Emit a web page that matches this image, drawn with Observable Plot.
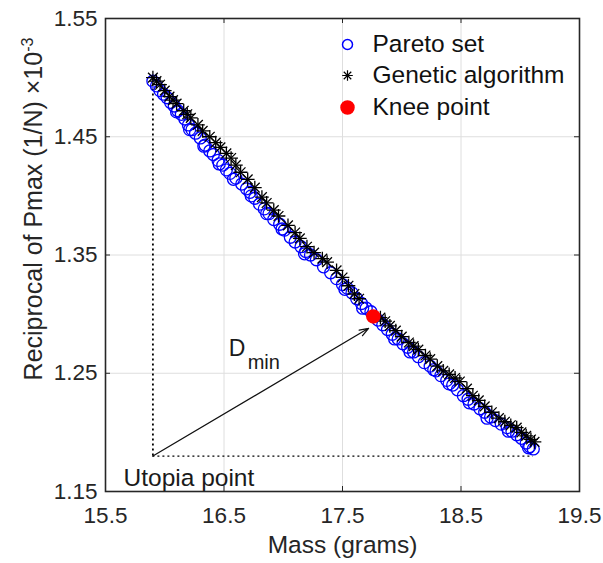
<!DOCTYPE html>
<html>
<head>
<meta charset="utf-8">
<script src="https://cdn.jsdelivr.net/npm/d3@7"></script>
<script src="https://cdn.jsdelivr.net/npm/@observablehq/plot@0.6"></script>
<style>
  html, body { margin: 0; padding: 0; background: #fff; }
  #chart svg { display: block; }
</style>
</head>
<body>
<div id="chart"></div>
<script>
// ---- Data ----
const paretoMass = [15.90,15.93,15.96,15.99,16.02,16.05,16.08,16.11,16.14,16.17,16.20,16.23,16.26,16.30,16.34,16.38,16.41,16.45,16.49,16.52,16.55,16.60,16.65,16.69,16.72,16.76,16.80,16.84,16.88,16.92,16.97,17.01,17.06,17.10,17.15,17.19,17.23,17.28,17.34,17.40,17.45,17.50,17.54,17.58,17.62,17.66,17.70,17.74,17.80,17.84,17.88,17.92,17.97,18.01,18.05,18.10,18.14,18.19,18.24,18.29,18.33,18.38,18.43,18.47,18.52,18.56,18.61,18.66,18.70,18.75,18.79,18.84,18.89,18.93,18.97,19.01,19.05,19.08,19.11,
  16.10,16.21,16.33,16.46,16.58,16.73,16.86,16.99,17.18,17.52,17.67,17.94,18.07,18.27,18.40,18.57,18.72,18.90,19.07];
const paretoRecip = [1.497,1.493,1.489,1.486,1.483,1.479,1.476,1.472,1.469,1.465,1.460,1.456,1.453,1.449,1.443,1.438,1.435,1.430,1.426,1.422,1.419,1.415,1.410,1.406,1.403,1.398,1.393,1.389,1.385,1.380,1.376,1.371,1.365,1.361,1.357,1.353,1.350,1.346,1.340,1.335,1.330,1.325,1.322,1.318,1.313,1.309,1.305,1.302,1.295,1.291,1.287,1.283,1.279,1.275,1.272,1.268,1.264,1.259,1.256,1.252,1.248,1.244,1.240,1.236,1.231,1.228,1.224,1.220,1.217,1.213,1.210,1.207,1.204,1.201,1.198,1.195,1.191,1.188,1.186,
  1.471,1.456,1.442,1.427,1.414,1.400,1.385,1.372,1.351,1.321,1.305,1.279,1.268,1.253,1.241,1.225,1.212,1.201,1.187];

const gaMass = [15.90,15.93,15.96,16.00,16.04,16.07,16.10,16.16,16.19,16.22,16.28,16.32,16.38,16.43,16.47,16.52,16.56,16.60,16.64,16.70,16.76,16.82,16.86,16.92,16.96,17.04,17.10,17.14,17.20,17.26,17.33,17.37,17.45,17.50,17.55,17.60,17.64,17.82,17.86,17.90,17.95,18.00,18.06,18.10,18.14,18.20,18.24,18.30,18.35,18.40,18.45,18.49,18.55,18.60,18.65,18.70,18.76,18.82,18.87,18.92,18.97,19.01,19.05,19.09,19.12];
const gaRecip = [1.500,1.497,1.494,1.489,1.484,1.481,1.478,1.472,1.469,1.466,1.460,1.455,1.450,1.445,1.441,1.436,1.432,1.426,1.420,1.414,1.407,1.399,1.394,1.388,1.383,1.375,1.369,1.364,1.357,1.352,1.347,1.344,1.337,1.331,1.324,1.317,1.313,1.297,1.294,1.290,1.286,1.281,1.276,1.273,1.270,1.265,1.262,1.256,1.252,1.249,1.246,1.243,1.237,1.231,1.227,1.222,1.217,1.212,1.209,1.206,1.204,1.200,1.197,1.194,1.192];

const kneeMass = [17.76];
const kneeRecip = [1.298];
const utopiaMass = [15.90];
const utopiaRecip = [1.18];
const arrowEndMass = [17.72];
const arrowEndRecip = [1.288];
const frontEndMass = [19.11];   // right end of the dotted utopia line
const frontTopRecip = [1.50];   // top end of the dotted utopia line

const xTicks = [15.5, 16.5, 17.5, 18.5, 19.5];
const yTicks = [1.15, 1.25, 1.35, 1.45, 1.55];
const xLabel = "Mass (grams)";
const yLabel = "Reciprocal of Pmax (1/N) \u00d710";
const yLabelExp = "-3";
const legendLabels = ["Pareto set", "Genetic algorithm", "Knee point"];
const utopiaLabel = "Utopia point";

// ---- Tables built from the arrays ----
const pareto = paretoMass.map((m, i) => ({mass: m, recip: paretoRecip[i]}));
const ga = gaMass.map((m, i) => ({mass: m, recip: gaRecip[i]}));
const knee = kneeMass.map((m, i) => ({mass: m, recip: kneeRecip[i]}));
const arrowData = [{x1: utopiaMass[0], y1: utopiaRecip[0], x2: arrowEndMass[0], y2: arrowEndRecip[0]}];

const FONT = "'Liberation Sans', Arial, Helvetica, sans-serif";
const frameColor = "#262626";
const gridColor = "#dedede";
const plotH = 563 - 18 - 72;
const plotW = 603 - 105 - 24;
const tickLen = 5;

// legend row offsets from the frame's top-left (layout)
const legRowDy = [26, 57, 89];
const legSymDx = 242;
const legTextDx = 267;

const chart = Plot.plot({
  width: 603,
  height: 563,
  marginLeft: 105,
  marginRight: 24,
  marginTop: 18,
  marginBottom: 72,
  x: {domain: [15.5, 19.5]},
  y: {domain: [1.15, 1.55]},
  style: {fontFamily: FONT, fontSize: "22px", background: "white", color: "#262626"},
  marks: [
    Plot.gridX(xTicks.slice(1, -1), {stroke: gridColor, strokeOpacity: 1, strokeWidth: 1}),
    Plot.gridY(yTicks.slice(1, -1), {stroke: gridColor, strokeOpacity: 1, strokeWidth: 1}),
    // inward ticks on all four sides
    Plot.tickX(xTicks, {x: d => d, insetTop: plotH - tickLen, stroke: frameColor, strokeWidth: 1}),
    Plot.tickX(xTicks, {x: d => d, insetBottom: plotH - tickLen, stroke: frameColor, strokeWidth: 1}),
    Plot.tickY(yTicks, {y: d => d, insetRight: plotW - tickLen, stroke: frameColor, strokeWidth: 1}),
    Plot.tickY(yTicks, {y: d => d, insetLeft: plotW - tickLen, stroke: frameColor, strokeWidth: 1}),
    Plot.axisX({ticks: xTicks, tickSize: 0, tickPadding: 16, tickFormat: d => d.toFixed(1), label: null, fontSize: 22.5, fill: "#262626"}),
    Plot.axisY({ticks: yTicks, tickSize: 0, tickPadding: 8, tickFormat: d => d.toFixed(2), label: null, fontSize: 22.5, fill: "#262626"}),
    // dotted utopia lines
    Plot.ruleX(utopiaMass, {x: d => d, y1: utopiaRecip[0], y2: frontTopRecip[0], stroke: "black", strokeWidth: 1.8, strokeDasharray: "2,3"}),
    Plot.ruleY(utopiaRecip, {y: d => d, x1: utopiaMass[0], x2: frontEndMass[0], stroke: "black", strokeWidth: 1.3, strokeDasharray: "2,3"}),
    // arrow D_min
    Plot.arrow(arrowData, {x1: "x1", y1: "y1", x2: "x2", y2: "y2", stroke: "#111", strokeWidth: 1.3, headLength: 11, headAngle: 40}),
    // Pareto set
    Plot.dot(pareto, {x: "mass", y: "recip", r: 6, stroke: "#0000ff", strokeWidth: 1.3, fill: "none"}),
    // Genetic algorithm (asterisk = plus + times)
    Plot.dot(ga, {x: "mass", y: "recip", symbol: "plus", r: 4.5, stroke: "black", strokeWidth: 1.3}),
    Plot.dot(ga, {x: "mass", y: "recip", symbol: "times", r: 4.5, stroke: "black", strokeWidth: 1.3}),
    // Knee point
    Plot.dot(knee, {x: "mass", y: "recip", r: 6.5, fill: "#ff0000", stroke: "#ff0000"}),
    // annotations
    Plot.text(["D"], {x: 16.54, y: 1.265, text: d => d, textAnchor: "start", lineAnchor: "bottom", fontSize: 23, fill: "#1a1a1a"}),
    Plot.text(["min"], {x: 16.70, y: 1.254, text: d => d, textAnchor: "start", lineAnchor: "bottom", fontSize: 20, fill: "#1a1a1a"}),
    Plot.text([utopiaLabel], {frameAnchor: "bottom-left", dx: 18, dy: -6, text: d => d, textAnchor: "start", lineAnchor: "bottom", fontSize: 24.5, fill: "#1a1a1a"}),
    // frame
    Plot.frame({stroke: frameColor, strokeWidth: 1.6}),
    // axis labels
    Plot.text([xLabel], {frameAnchor: "bottom", dy: 61, text: d => d, lineAnchor: "bottom", fontSize: 24.5, fill: "#262626"}),
    Plot.text([yLabel], {frameAnchor: "left", dx: -72, dy: -46, rotate: -90, text: d => d, textAnchor: "middle", lineAnchor: "middle", fontSize: 25, fill: "#262626"}),
    // legend
    Plot.dot([legendLabels[0]], {frameAnchor: "top-left", dx: legSymDx, dy: legRowDy[0], r: 5, stroke: "#0000ff", strokeWidth: 1.5, fill: "none"}),
    Plot.dot([legendLabels[1]], {frameAnchor: "top-left", dx: legSymDx, dy: legRowDy[1], symbol: "plus", r: 3.5, stroke: "black", strokeWidth: 1.2}),
    Plot.dot([legendLabels[1]], {frameAnchor: "top-left", dx: legSymDx, dy: legRowDy[1], symbol: "times", r: 3.5, stroke: "black", strokeWidth: 1.2}),
    Plot.dot([legendLabels[2]], {frameAnchor: "top-left", dx: legSymDx, dy: legRowDy[2], r: 6.5, fill: "#ff0000", stroke: "#ff0000"}),
    ...legendLabels.map((lab, i) => Plot.text([lab], {frameAnchor: "top-left", dx: legTextDx, dy: legRowDy[i], text: d => d, textAnchor: "start", lineAnchor: "middle", fontSize: 24.5, fill: "#111"}))
  ]
});

// superscript exponent on the y label
d3.select(chart).selectAll("text")
  .filter(function() { return this.textContent === yLabel; })
  .append("tspan").attr("dy", "-0.55em").attr("font-size", "16px").text(yLabelExp);

document.getElementById("chart").appendChild(chart);
</script>
</body>
</html>
